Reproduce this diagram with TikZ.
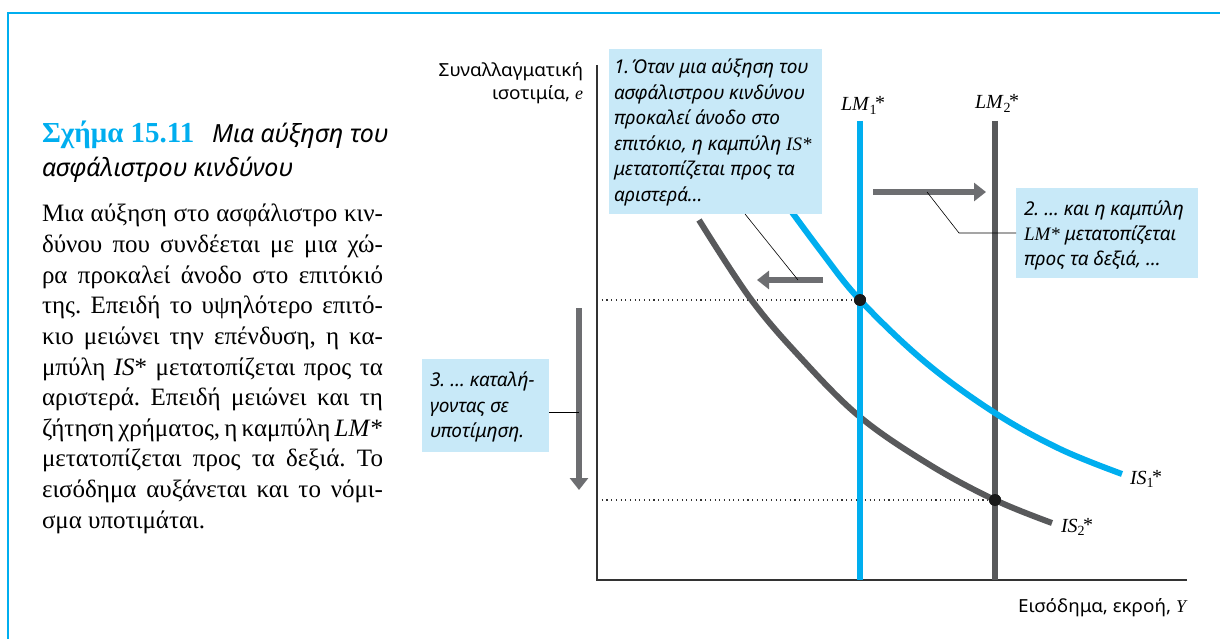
\documentclass[tikz,border=0pt]{standalone}
\usepackage{fontspec}
\setmainfont{Liberation Serif}
\newfontfamily\sansf{Noto Sans}
\newfontfamily\axisf[FakeStretch=1.05]{Noto Sans}
\usetikzlibrary{arrows.meta}
\definecolor{cyanb}{HTML}{00AEEF}
\definecolor{boxc}{HTML}{C8E9F8}
\definecolor{arrg}{HTML}{6D6E71}
\definecolor{curveg}{HTML}{58595B}
\definecolor{axisc}{HTML}{333333}
\newcommand\starlbl[2]{\textit{#1}\textsubscript{#2}\kern-2pt\raisebox{1pt}{*}}
\newcommand\bl[1]{\makebox[341pt][s]{#1}}
\frenchspacing
\begin{document}
\begin{tikzpicture}[x=1pt,y=-1pt,
  txt/.style={anchor=base west,inner sep=0pt,outer sep=0pt},
  txtr/.style={anchor=base east,inner sep=0pt,outer sep=0pt},
  body/.style={txt,font=\fontsize{25}{30}\selectfont\frenchspacing},
  boxt/.style={txt,font=\sansf\itshape\fontsize{19}{22}\selectfont},
  axl/.style={font=\axisf\fontsize{18}{22}\selectfont},
  curvelbl/.style={txt,font=\fontsize{20}{22}\selectfont},
  callout/.style={fill=boxc,draw=none,anchor=north west,inner sep=0pt,outer sep=0pt},
  bigarrow/.style={draw=arrg,line width=6.5pt,-{Triangle[length=12pt,width=18pt]}},
  leader/.style={draw=black,line width=0.6pt},
  dot/.style={circle,fill=black!90,inner sep=0pt,minimum size=12pt},
  dotted line/.style={draw=black!80,line width=1.1pt,dash pattern=on 1.1pt off 3.6pt}]
\useasboundingbox (0,0) rectangle (1220,639);
% frame
\draw[cyanb,line width=2pt] (8,645) -- (8,13) -- (1225,13);

% title and caption
\node[txt,font=\bfseries\fontsize{29}{32}\selectfont,text=cyanb] (ttl) at (42,143) {Σχήμα 15.11};
\node[txt,font=\sansf\itshape\fontsize{25}{28}\selectfont] (ttl2) at (212,143) {Μια αύξηση του};
\node[txt,font=\sansf\itshape\fontsize{25}{28}\selectfont] (ttl3) at (42,177) {ασφάλιστρου κινδύνου};

\node[body] (p1) at (42,222.0) {\bl{Μια αύξηση στο ασφάλιστρο κιν-}};
\node[body] (p2) at (42,252.6) {\bl{δύνου που συνδέεται με μια χώ-}};
\node[body] (p3) at (42,283.2) {\bl{ρα προκαλεί άνοδο στο επιτόκιό}};
\node[body] (p4) at (42,313.8) {\bl{της. Επειδή το υψηλότερο επιτό-}};
\node[body] (p5) at (42,344.4) {\bl{κιο μειώνει την επένδυση, η κα-}};
\node[body] (p6) at (42,375.0) {\bl{μπύλη \textit{IS}* μετατοπίζεται προς τα}};
\node[body] (p7) at (42,405.6) {\bl{αριστερά. Επειδή μειώνει και τη}};
\node[body] (p8) at (42,436.2) {\bl{ζήτηση χρήματος, η καμπύλη \textit{LM}*}};
\node[body] (p9) at (42,466.8) {\bl{μετατοπίζεται προς τα δεξιά. Το}};
\node[body] (p10) at (42,497.4) {\bl{εισόδημα αυξάνεται και το νόμι-}};
\node[body] (p11) at (42,528.0) {σμα υποτιμάται.};

% axes
\coordinate (O) at (597,580);
\coordinate (Ytop) at (597,65);
\coordinate (Xend) at (1187,580);
\draw[axisc,line width=1.5pt] (Ytop) -- (O) -- (Xend);
\node[txtr,axl] (yl1) at (583,77) {Συναλλαγματική};
\node[txtr,axl] (yl2) at (583,100) {ισοτιμία, {\rmfamily\itshape e}};
\node[txtr,axl] (xl) at (1186,612) {Εισόδημα, εκροή, {\rmfamily\itshape Y}};

% dotted lines
\coordinate (d1) at (597,300);
\coordinate (d2) at (597,500);
\node[dot] (E1) at (860,300) {};
\node[dot] (E2) at (995,500) {};
\draw[dotted line] (d1) -- (E1.west);
\draw[dotted line] (d2) -- (E2.west);

% LM curves
\coordinate (lm1t) at (860,121);
\coordinate (lm1b) at (860,580);
\coordinate (lm2t) at (995,121);
\coordinate (lm2b) at (995,580);
\draw[curveg,line width=6pt] (lm2t) -- (lm2b);
% IS curves
\draw[curveg,line width=6pt,line cap=butt] plot[smooth,tension=0.6] coordinates {(699,220) (750,298) (800,357) (860,417) (930,465) (995,500) (1052,523)};
\draw[cyanb,line width=6pt] (lm1t) -- (lm1b);
\draw[cyanb,line width=6pt] plot[smooth,tension=0.6] coordinates {(778,193) (820,250) (860,300) (925,362) (995,413) (1060,449) (1122,474)};
\node[dot] at (E1) {};
\node[dot] at (E2) {};

\node[curvelbl] (lm1l) at (841,111) {\starlbl{LM}{1}};
\node[curvelbl] (lm2l) at (975,109) {\starlbl{LM}{2}};
\node[curvelbl] (is1l) at (1130,484) {\starlbl{IS}{1}};
\node[curvelbl] (is2l) at (1061,532) {\starlbl{IS}{2}};

% callout 1
\node[callout,minimum width=213pt,minimum height=165pt] (b1) at (609,49) {};
\node[boxt] (b1a) at (614,74) {1.\kern2pt Όταν μια αύξηση του};
\node[boxt] (b1b) at (614,99.4) {ασφάλιστρου κινδύνου};
\node[boxt] (b1c) at (614,124.8) {προκαλεί άνοδο στο};
\node[boxt] (b1d) at (614,150.2) {επιτόκιο, η καμπύλη {\rmfamily\itshape IS*}};
\node[boxt] (b1e) at (614,175.6) {μετατοπίζεται προς τα};
\node[boxt] (b1f) at (614,201) {αριστερά…};

% callout 2
\node[callout,minimum width=182pt,minimum height=90pt] (b2) at (1016,188) {};
\node[boxt] (b2a) at (1024,215) {2. … και η καμπύλη};
\node[boxt] (b2b) at (1024,240) {{\rmfamily\itshape LM*} μετατοπίζεται};
\node[boxt] (b2c) at (1024,265) {προς τα δεξιά, …};

% callout 3
\node[callout,minimum width=127pt,minimum height=93pt] (b3) at (422,359) {};
\node[boxt] (b3a) at (430,386) {3. … καταλή-};
\node[boxt] (b3b) at (430,412) {γοντας σε};
\node[boxt] (b3c) at (430,437) {υποτίμηση.};

% shift arrows
\coordinate (al1) at (823,280);
\coordinate (al2) at (757,280);
\coordinate (ar1) at (873,192);
\coordinate (ar2) at (986,192);
\coordinate (ad1) at (579,308);
\coordinate (ad2) at (579,490);
\draw[bigarrow] (al1) -- (al2);
\draw[bigarrow] (ar1) -- (ar2);
\draw[bigarrow] (ad1) -- (ad2);

% leaders
\coordinate (l1s) at (745,214);
\coordinate (l1e) at (798,280);
\draw[leader] (l1s) -- (l1e);
\coordinate (l2s) at (927,192);
\coordinate (l2m) at (959,233);
\draw[leader] (l2s) -- (l2m) -- (b2.west |- l2m);
\coordinate (l3e) at (579,412);
\draw[leader] (b3.east |- l3e) -- (l3e);
\end{tikzpicture}
\end{document}
